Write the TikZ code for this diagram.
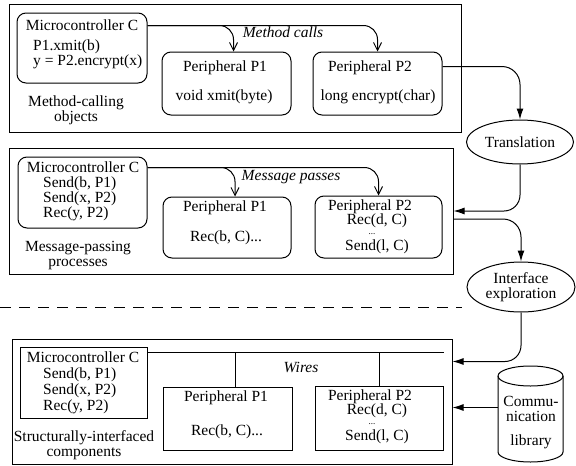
\documentclass[tikz,border=0pt]{standalone}
\usepackage{fontspec}
\setmainfont{Liberation Serif}
\usetikzlibrary{arrows.meta,shapes.geometric,calc,fit}
\begin{document}
\begin{tikzpicture}[x=1pt,y=-1pt,
  every node/.style={font=\fontsize{15.5}{15}\selectfont, inner sep=0pt},
  ital/.style={font=\fontsize{15.5}{15}\selectfont\itshape},
  outerbox/.style={draw, line width=1pt, inner sep=0pt},
  rbox/.style={draw, line width=1pt, inner sep=0pt, rounded corners=9pt},
  sbox/.style={draw, line width=1pt, inner sep=0pt},
  conn/.style={line width=1pt},
  openarrow/.style={-{Straight Barb[length=8pt,width=8pt,line width=1pt]}},
  filledarrow/.style={-{Latex[length=11pt,width=7pt]}},
  oval/.style={ellipse, draw, line width=1pt, inner sep=0pt, align=center},
  dots/.style={font=\fontsize{9}{9}\selectfont, text height=1.2pt, text depth=0pt}
]
\useasboundingbox (0,0) rectangle (576,466);

% ---------- level 1 ----------
\node[outerbox, fit={(9,4)(461,132)}] (o1) {};
\node[rbox, fit={(17,13)(147,83)}] (c1) {};
\node[rbox, fit={(162,52)(291,115)}] (p1) {};
\node[rbox, fit={(313,52)(442,115)}] (p2) {};
\node (c1t) at (82,25) {Microcontroller C};
\node[align=left, anchor=west] (c1c) at (33,54) {P1.xmit(b)\\y = P2.encrypt(x)};
\node (p1t) at (225,68) {Peripheral P1};
\node (p1m) at (224,97) {void xmit(byte)};
\node (p2t) at (370,68) {Peripheral P2};
\node (p2m) at (378,97) {long encrypt(char)};
\node[ital] (mc) at (283,32) {Method calls};
\node[align=center] (l1) at (76,110.5) {Method-calling\\objects};

% ---------- level 2 ----------
\node[outerbox, fit={(9,148)(453,274)}] (o2) {};
\node[rbox, fit={(18,157)(147,228)}] (c2) {};
\node[rbox, fit={(163,197)(291,258)}] (q1) {};
\node[rbox, fit={(315,196)(442,258)}] (q2) {};
\node (c2t) at (83,167) {Microcontroller C};
\node[align=left, anchor=west] (c2c) at (43,199) {Send(b, P1)\\Send(x, P2)\\Rec(y, P2)};
\node (q2t) at (370,207) {Peripheral P2};
\node (q1t) at (225,208) {Peripheral P1};
\node (q1m) at (226,238) {Rec(b, C)...};
\node (q2a) at (377,221) {Rec(d, C)};
\node[dots] (q2d) at (372,234) {...};
\node (q2b) at (377,247) {Send(l, C)};
\node[ital] (mp) at (291,177) {Message passes};
\node[align=center] (l2) at (78,255.5) {Message-passing\\processes};

% ---------- level 3 ----------
\node[outerbox, fit={(12,339)(452,464)}] (o3) {};
\node[sbox, fit={(20,347)(147,418)}] (c3) {};
\node[sbox, fit={(163,387)(292,450)}] (r1) {};
\node[sbox, fit={(315,386)(443,450)}] (r2) {};
\node (c3t) at (83,357) {Microcontroller C};
\node[align=left, anchor=west, font=\fontsize{15.5}{16}\selectfont] (c3c) at (43,391) {Send(b, P1)\\Send(x, P2)\\Rec(y, P2)};
\node (r1t) at (226,398) {Peripheral P1};
\node (r1m) at (227,432) {Rec(b, C)...};
\node (r2t) at (370,397) {Peripheral P2};
\node (r2a) at (377,411) {Rec(d, C)};
\node[dots] (r2d) at (372,424) {...};
\node (r2b) at (377,437) {Send(l, C)};
\node[ital] (wi) at (301,367) {Wires};
\node[align=center] (l3) at (84,445) {Structurally-interfaced\\components};

% ---------- right column ----------
\node[oval, minimum width=107pt, minimum height=44pt] (tr) at (520,142) {Translation};
\node[oval, minimum width=108pt, minimum height=50pt] (ie) at (521,287) {Interface\\exploration};
% communication library (cylinder)
\node[fit={(498,366)(563,463)}] (lib) {};
\draw[line width=1pt] (498,376) -- (498,452) arc[start angle=180, end angle=360, x radius=32.5pt, y radius=10pt]
  -- (563,376) arc[start angle=0, end angle=180, x radius=32.5pt, y radius=10pt] -- cycle;
\draw[line width=1pt] (498,376) arc[start angle=180, end angle=360, x radius=32.5pt, y radius=10pt];
\node[align=center] (libt) at (531,423) {Commu-\\nication\\[9pt]library};

% dashed separator
\coordinate (dl) at (0,307);
\coordinate (dr) at (462,307);
\draw[line width=0.9pt, dash pattern=on 11pt off 8pt] (dl) -- (dr);

% ---------- connectors level 1 ----------
\coordinate (m0) at ([yshift=-13pt]c1.north east);
\coordinate (a1) at ([xshift=7pt]p1.north);
\draw[conn, openarrow, rounded corners=14pt] (m0) -| (a1);
\draw[conn, openarrow, rounded corners=14pt] (m0) -| (p2.north);

% ---------- connectors level 2 ----------
\coordinate (n0) at ([yshift=-11pt]c2.north east);
\coordinate (b1) at ([xshift=8pt]q1.north);
\draw[conn, openarrow, rounded corners=14pt] (n0) -| (b1);
\draw[conn, openarrow, rounded corners=14pt] (n0) -| (q2.north);

% ---------- wires level 3 ----------
\coordinate (w0) at ([yshift=-6pt]c3.north east);
\coordinate (d1) at ([xshift=7.5pt]r1.north);
\draw[conn] (w0) -- (r2.east |- w0);
\draw[conn] (d1 |- w0) -- (d1);
\draw[conn] (r2.north |- w0) -- (r2.north);

% ---------- flow on the right ----------
\coordinate (t0) at ([yshift=-15pt]p2.north east);
\draw[conn, filledarrow, rounded corners=18pt] (t0) -| (tr.north);
\draw[conn, filledarrow, rounded corners=16pt] (tr.south) |- (o2.east);
\coordinate (e0) at ([yshift=-8pt]o2.east);
\draw[conn, filledarrow, rounded corners=18pt] (e0) -| (ie.north);
\coordinate (e1) at ([yshift=-23pt]o3.north east);
\draw[conn, filledarrow, rounded corners=16pt] (ie.south) |- (e1);
\coordinate (la) at ($(lib.west)+(0,-7)$);
\draw[conn, filledarrow] (la) -- (o3.east |- la);
\end{tikzpicture}
\end{document}
